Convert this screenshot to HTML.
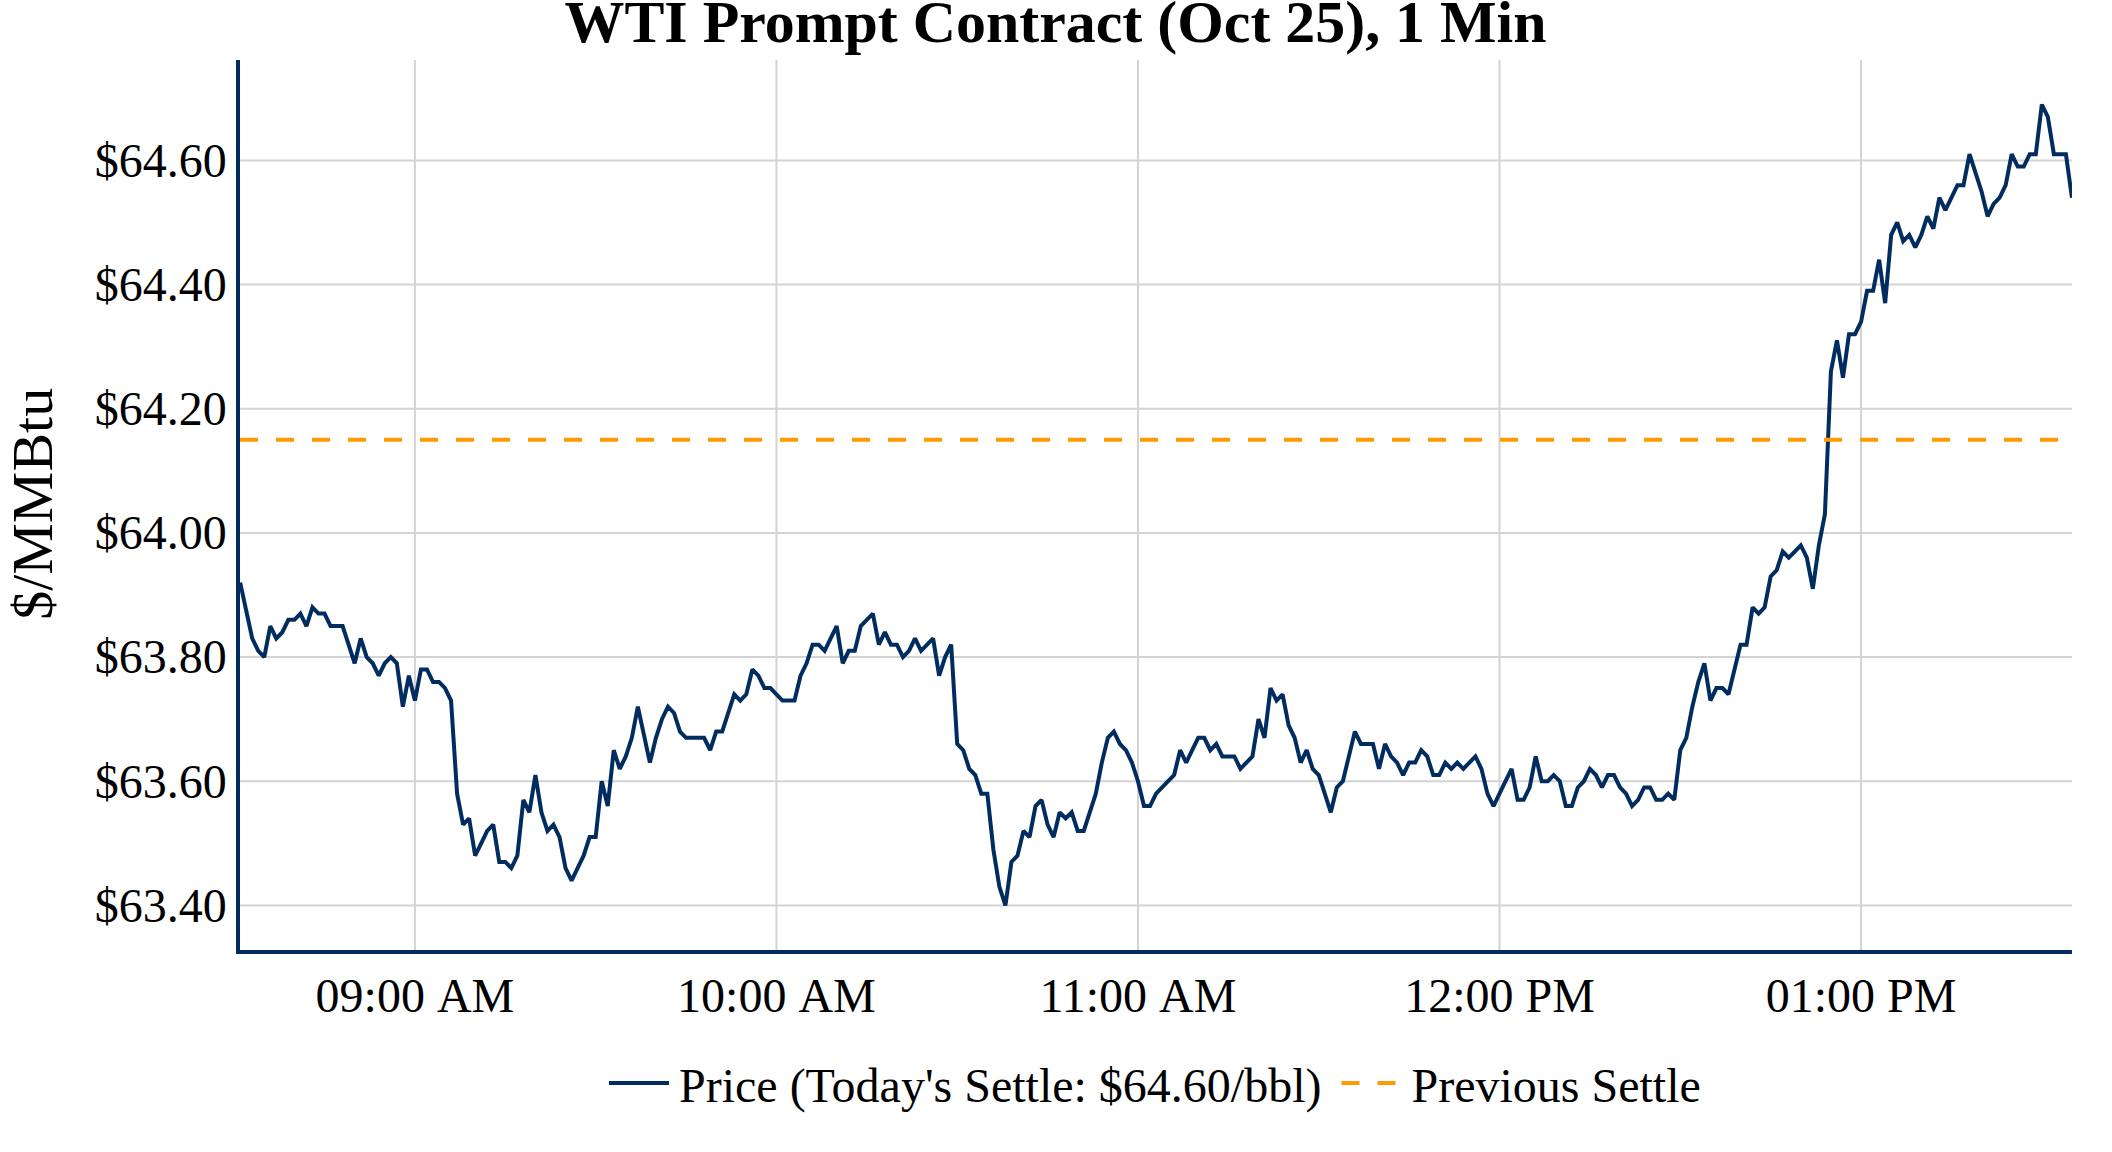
<!DOCTYPE html>
<html><head><meta charset="utf-8"><title>WTI Prompt Contract</title>
<style>
html,body{margin:0;padding:0;background:#fff;}
svg{display:block}
text{font-family:"Liberation Serif","Times New Roman",serif;fill:#000}
</style></head><body>
<svg width="2112" height="1152" viewBox="0 0 2112 1152">
<rect width="2112" height="1152" fill="#fff"/>
<defs><clipPath id="pc"><rect x="240" y="60" width="1831.95" height="892"/></clipPath></defs>
<g stroke="#d3d3d3" stroke-width="2" fill="none">
<path d="M414.90,60V950M776.44,60V950M1137.97,60V950M1499.51,60V950M1861.05,60V950"/>
<path d="M240,160.40H2071.95M240,284.57H2071.95M240,408.73H2071.95M240,532.90H2071.95M240,657.07H2071.95M240,781.23H2071.95M240,905.40H2071.95"/>
</g>
<g clip-path="url(#pc)">
<polyline points="240.16,582.57 246.18,610.50 252.21,638.44 258.23,650.86 264.26,657.07 270.28,626.02 276.31,638.44 282.34,632.23 288.36,619.82 294.39,619.82 300.41,613.61 306.44,626.02 312.46,607.40 318.49,613.61 324.52,613.61 330.54,626.02 336.57,626.02 342.59,626.02 348.62,644.65 354.64,663.27 360.67,638.44 366.69,657.07 372.72,663.27 378.75,675.69 384.77,663.27 390.80,657.07 396.82,663.27 402.85,706.73 408.87,675.69 414.90,700.52 420.93,669.48 426.95,669.48 432.98,681.90 439.00,681.90 445.03,688.11 451.05,700.52 457.08,793.65 463.10,824.69 469.13,818.48 475.16,855.73 481.18,843.32 487.21,830.90 493.23,824.69 499.26,861.94 505.28,861.94 511.31,868.15 517.34,855.73 523.36,799.86 529.39,812.27 535.41,775.02 541.44,812.27 547.46,830.90 553.49,824.69 559.51,837.11 565.54,868.15 571.57,880.57 577.59,868.15 583.62,855.73 589.64,837.11 595.67,837.11 601.69,781.23 607.72,806.07 613.75,750.19 619.77,768.82 625.80,756.40 631.82,737.77 637.85,706.73 643.87,734.67 649.90,762.61 655.92,737.77 661.95,719.15 667.98,706.73 674.00,712.94 680.03,731.57 686.05,737.77 692.08,737.77 698.10,737.77 704.13,737.77 710.16,750.19 716.18,731.57 722.21,731.57 728.23,712.94 734.26,694.32 740.28,700.52 746.31,694.32 752.34,669.48 758.36,675.69 764.39,688.11 770.41,688.11 776.44,694.32 782.46,700.52 788.49,700.52 794.51,700.52 800.54,675.69 806.57,663.27 812.59,644.65 818.62,644.65 824.64,650.86 830.67,638.44 836.69,626.02 842.72,663.27 848.75,650.86 854.77,650.86 860.80,626.02 866.82,619.82 872.85,613.61 878.87,644.65 884.90,632.23 890.92,644.65 896.95,644.65 902.98,657.07 909.00,650.86 915.03,638.44 921.05,650.86 927.08,644.65 933.10,638.44 939.13,675.69 945.16,657.07 951.18,644.65 957.21,743.98 963.23,750.19 969.26,768.82 975.28,775.02 981.31,793.65 987.33,793.65 993.36,849.52 999.39,886.77 1005.41,905.40 1011.44,861.94 1017.46,855.73 1023.49,830.90 1029.51,837.11 1035.54,806.07 1041.57,799.86 1047.59,824.69 1053.62,837.11 1059.64,812.27 1065.67,818.48 1071.69,812.27 1077.72,830.90 1083.74,830.90 1089.77,812.27 1095.80,793.65 1101.82,762.61 1107.85,737.77 1113.87,731.57 1119.90,743.98 1125.92,750.19 1131.95,762.61 1137.97,781.23 1144.00,806.07 1150.03,806.07 1156.05,793.65 1162.08,787.44 1168.10,781.23 1174.13,775.02 1180.15,750.19 1186.18,762.61 1192.21,750.19 1198.23,737.77 1204.26,737.77 1210.28,750.19 1216.31,743.98 1222.33,756.40 1228.36,756.40 1234.39,756.40 1240.41,768.82 1246.44,762.61 1252.46,756.40 1258.49,719.15 1264.51,737.77 1270.54,688.11 1276.56,700.52 1282.59,694.32 1288.62,725.36 1294.64,737.77 1300.67,762.61 1306.69,750.19 1312.72,768.82 1318.74,775.02 1324.77,793.65 1330.80,812.27 1336.82,787.44 1342.85,781.23 1348.87,756.40 1354.90,731.57 1360.92,743.98 1366.95,743.98 1372.97,743.98 1379.00,768.82 1385.03,743.98 1391.05,756.40 1397.08,762.61 1403.10,775.02 1409.13,762.61 1415.15,762.61 1421.18,750.19 1427.20,756.40 1433.23,775.02 1439.26,775.02 1445.28,762.61 1451.31,768.82 1457.33,762.61 1463.36,768.82 1469.38,762.61 1475.41,756.40 1481.44,768.82 1487.46,793.65 1493.49,806.07 1499.51,793.65 1505.54,781.23 1511.56,768.82 1517.59,799.86 1523.62,799.86 1529.64,787.44 1535.67,756.40 1541.69,781.23 1547.72,781.23 1553.74,775.02 1559.77,781.23 1565.79,806.07 1571.82,806.07 1577.85,787.44 1583.87,781.23 1589.90,768.82 1595.92,775.02 1601.95,787.44 1607.97,775.02 1614.00,775.02 1620.03,787.44 1626.05,793.65 1632.08,806.07 1638.10,799.86 1644.13,787.44 1650.15,787.44 1656.18,799.86 1662.20,799.86 1668.23,793.65 1674.26,799.86 1680.28,750.19 1686.31,737.77 1692.33,706.73 1698.36,681.90 1704.38,663.27 1710.41,700.52 1716.43,688.11 1722.46,688.11 1728.49,694.32 1734.51,669.48 1740.54,644.65 1746.56,644.65 1752.59,607.40 1758.61,613.61 1764.64,607.40 1770.67,576.36 1776.69,570.15 1782.72,551.52 1788.74,557.73 1794.77,551.52 1800.79,545.32 1806.82,557.73 1812.85,588.77 1818.87,545.32 1824.90,514.27 1830.92,371.48 1836.95,340.44 1842.97,377.69 1849.00,334.23 1855.02,334.23 1861.05,321.82 1867.08,290.77 1873.10,290.77 1879.13,259.73 1885.15,303.19 1891.18,234.90 1897.20,222.48 1903.23,241.11 1909.26,234.90 1915.28,247.32 1921.31,234.90 1927.33,216.27 1933.36,228.69 1939.38,197.65 1945.41,210.07 1951.43,197.65 1957.46,185.23 1963.49,185.23 1969.51,154.19 1975.54,172.82 1981.56,191.44 1987.59,216.27 1993.61,203.86 1999.64,197.65 2005.66,185.23 2011.69,154.19 2017.72,166.61 2023.74,166.61 2029.77,154.19 2035.79,154.19 2041.82,104.52 2047.84,116.94 2053.87,154.19 2059.90,154.19 2065.92,154.19 2071.95,197.65" fill="none" stroke="#002c5f" stroke-width="4" stroke-linejoin="miter" stroke-miterlimit="2"/>
<path d="M240,439.77H2071.95" stroke="#ff9a00" stroke-width="4" stroke-dasharray="18,18" fill="none"/>
</g>
<rect x="236" y="60" width="4" height="894" fill="#002c5f"/>
<rect x="236" y="950" width="1835.95" height="4" fill="#002c5f"/>
<text x="1055.5" y="41.9" font-size="59.9" font-weight="bold" text-anchor="middle">WTI Prompt Contract (Oct 25), 1 Min</text>
<g font-size="48" text-anchor="end"><text x="226.8" y="176.7">$64.60</text><text x="226.8" y="300.9">$64.40</text><text x="226.8" y="425.0">$64.20</text><text x="226.8" y="549.2">$64.00</text><text x="226.8" y="673.4">$63.80</text><text x="226.8" y="797.5">$63.60</text><text x="226.8" y="921.7">$63.40</text></g>
<g font-size="48" text-anchor="middle"><text x="414.9" y="1012">09:00 <tspan dx="2.66">AM</tspan></text><text x="776.4" y="1012">10:00 <tspan dx="2.66">AM</tspan></text><text x="1138.0" y="1012">11:00 <tspan dx="2.66">AM</tspan></text><text x="1499.5" y="1012">12:00 PM</text><text x="1861.1" y="1012">01:00 PM</text></g>
<text transform="translate(52,503.8) rotate(-90)" font-size="58" text-anchor="middle">$/MMBtu</text>
<path d="M609,1083H669" stroke="#002c5f" stroke-width="4"/>
<text x="679" y="1102" font-size="48">Price (Today's Settle: $64.60/bbl)</text>
<path d="M1341.5,1083H1401.5" stroke="#ff9a00" stroke-width="4" stroke-dasharray="18,18"/>
<text x="1411.5" y="1102" font-size="48">Previous Settle</text>
</svg>
</body></html>
